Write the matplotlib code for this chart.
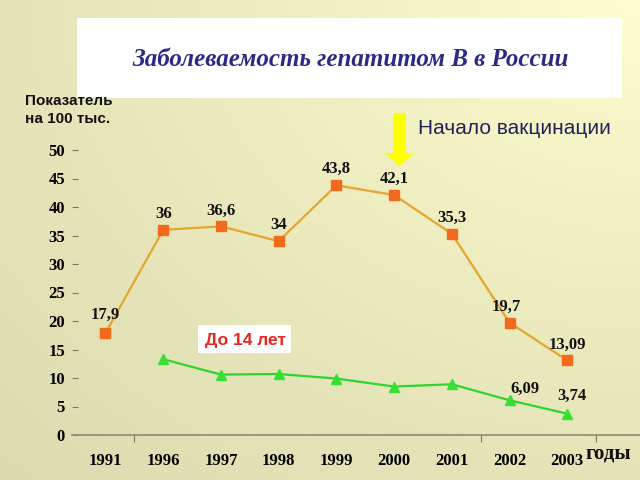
import matplotlib
matplotlib.use("Agg")
import matplotlib.pyplot as plt
import numpy as np
from matplotlib.patches import FancyArrow, Rectangle

years = ['1991', '1996', '1997', '1998', '1999', '2000', '2001', '2002', '2003']
total = [17.9, 36, 36.6, 34, 43.8, 42.1, 35.3, 19.7, 13.09]
total_labels = ['17,9', '36', '36,6', '34', '43,8', '42,1', '35,3', '19,7', '13,09']
kids = [13.3, 10.6, 10.7, 9.9, 8.5, 8.9, 6.09, 3.74]   # 1996..2003
kids_labels = {7: '6,09', 8: '3,74'}
yticks = [0, 5, 10, 15, 20, 25, 30, 35, 40, 45, 50]

W, H = 640, 480
fig = plt.figure(figsize=(6.4, 4.8), dpi=100)

# background gradient, lighter towards top right
bg = fig.add_axes([0, 0, 1, 1])
yy, xx = np.mgrid[0:H, 0:W]
d = np.sqrt(((W - xx) / W) ** 2 + (yy / H) ** 2) / np.sqrt(2)
light = np.array([1.0, 1.0, 0.82])
dark = np.array([0.86, 0.86, 0.69])
t = np.clip(d, 0, 1)[..., None] ** 0.8
img = light * (1 - t) + dark * t
bg.imshow(img, extent=[0, W, H, 0], aspect='auto')
bg.set_xlim(0, W)
bg.set_ylim(H, 0)
bg.axis('off')

# title box
bg.add_patch(Rectangle((77, 18), 545, 80, facecolor='white', edgecolor='none'))
bg.text(350, 60, 'Заболеваемость гепатитом В в России', ha='center', va='center',
        fontsize=18, fontstyle='italic', fontweight='bold', family='Liberation Serif',
        color='#2B2B86')

bg.text(25, 110, 'Показатель\nна 100 тыс.', ha='left', va='center', fontsize=11,
        fontweight='bold', family='Liberation Sans', linespacing=1.45, color='#111111')

# vaccination arrow
bg.add_patch(FancyArrow(399.5, 113, 0, 53, width=13, head_width=30, head_length=13,
                        length_includes_head=True, facecolor='#FFFF00', edgecolor='none'))
bg.text(418, 128, 'Начало вакцинации', ha='left', va='center', fontsize=15,
        family='Liberation Sans', color='#22225A')

# data axes
x0, x1 = 72, 640
ybot, ytop = 435, 150
ax = fig.add_axes([x0 / W, 1 - ybot / H, (x1 - x0) / W, (ybot - ytop) / H])
ax.patch.set_visible(False)
xs = np.arange(len(years))
ax.set_xlim(-0.58, 9.26)
ax.set_ylim(0, 50)

ax.plot(xs, total, color='#E6A52E', lw=1.6, zorder=2, clip_on=False)
ax.plot(xs, total, ls='none', marker='s', ms=6.5, color='#F26A1B', zorder=3, clip_on=False)
ax.plot(xs[1:], kids, color='#2ED52E', lw=1.6, zorder=2, clip_on=False)
ax.plot(xs[1:], kids, ls='none', marker='^', ms=7, color='#33E033', zorder=3, clip_on=False)

dx = {7: -3}
dy = {0: 18}
for i, (v, s) in enumerate(zip(total, total_labels)):
    ax.annotate(s, (xs[i], v), xytext=(dx.get(i, 0), dy.get(i, 16)),
                textcoords='offset pixels', ha='center', va='center', fontsize=12,
                fontweight='bold', family='Liberation Serif', color='#111111')
for i, s in kids_labels.items():
    v = kids[i - 1]
    off = (15, 11) if i == 7 else (5, 18)
    ax.annotate(s, (xs[i], v), xytext=off, textcoords='offset pixels', ha='center',
                va='center', fontsize=12, fontweight='bold', family='Liberation Serif',
                color='#111111')

for sp in ['left', 'top', 'right']:
    ax.spines[sp].set_visible(False)
ax.spines['bottom'].set_color('#8A8A70')
ax.spines['bottom'].set_linewidth(1.2)

ax.set_yticks(yticks)
ax.set_yticklabels([str(v) for v in yticks], fontsize=12, fontweight='bold',
                   family='Liberation Serif')
ax.tick_params(axis='y', direction='in', length=4, width=0.8, color='#777766', pad=5)
ax.set_xticks(xs)
ax.set_xticklabels(years, fontsize=12, fontweight='bold', family='Liberation Serif')
ax.tick_params(axis='x', which='major', length=0, pad=13)
ax.set_xticks([0.5, 6.5, 8.5], minor=True)
ax.tick_params(axis='x', which='minor', direction='out', length=5, width=0.8,
               color='#777766')

bg.text(608, 453, 'годы', ha='center', va='center', fontsize=15, fontweight='bold',
        family='Liberation Serif', color='#111111')

# "До 14 лет" label
bg.add_patch(Rectangle((198, 325), 93, 28, facecolor='white', edgecolor='none', zorder=4))
bg.text(245, 340, 'До 14 лет', ha='center', va='center', fontsize=12.5,
        fontweight='bold', family='Liberation Sans', color='#E8261E', zorder=5)

fig.savefig('out.png', dpi=100)
